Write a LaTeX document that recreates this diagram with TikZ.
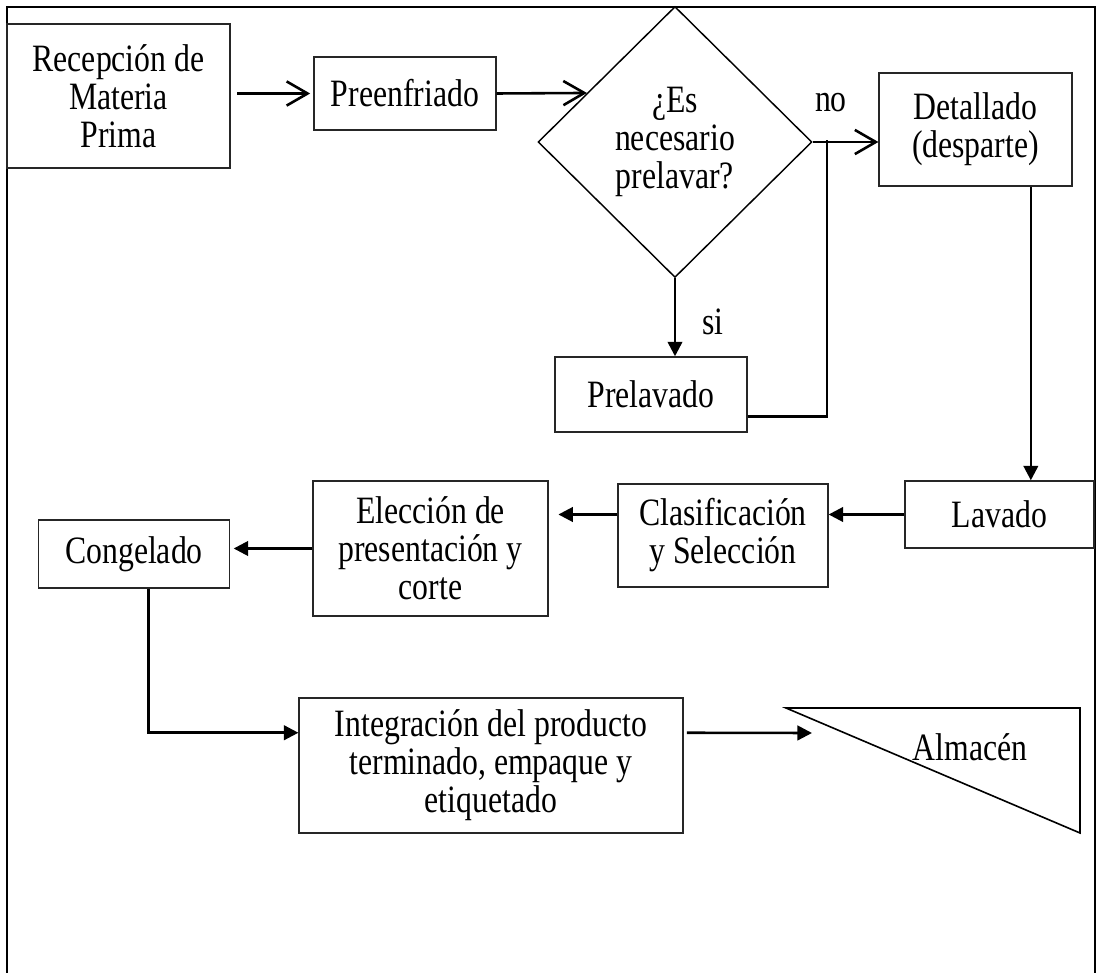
\documentclass[tikz,border=0pt]{standalone}
\usepackage{fontspec}
\setmainfont{Liberation Serif}[FakeStretch=0.82]
\usetikzlibrary{calc}
\usetikzlibrary{arrows.meta,shapes}
\usetikzlibrary{positioning}

\begin{document}
\begin{tikzpicture}[x=0.31pt,y=-0.31pt,
  font=\fontsize{12}{11.8}\selectfont,
  caja/.style={draw=black!85,line width=0.4pt,align=center,inner sep=1pt},
  decision/.style={draw,diamond,line width=0.45pt,align=center,inner sep=0pt},
  flecha/.style={line width=0.8pt,-{Straight Barb[length=6.5pt,width=7.5pt]}},
  flechan/.style={line width=0.8pt,-{Triangle[length=4.5pt,width=4.5pt]}},
  linea/.style={line width=0.8pt},
  marco/.style={line width=0.65pt}]
      \useasboundingbox (0,0) rectangle (1098,973);
      \draw[marco] (7,990) -- (7,7) -- (1095,7) -- (1095,990);
      % fila superior
      \node (rec) [caja, minimum width=69.1pt, minimum height=44.6pt] at (118.5,96) {Recepción de\\Materia\\Prima};
      \node (pre) [caja, minimum width=56.4pt, minimum height=22.6pt] at (405,93.5) {Preenfriado};
      \node (dec) [decision, minimum width=84.9pt, minimum height=84pt] at (675,142) {¿Es\\necesario\\prelavar?};
      \node (det) [caja, minimum width=59.8pt, minimum height=35pt] at (975.5,129.5) {Detallado\\(desparte)};
      \node (pla) [caja, minimum width=59.5pt, minimum height=23.3pt] at (651,394.5) {Prelavado};
      \node (no) at (831,103) {no};
      \node (si) at (713,322) {si};
      % fila media
      \node (lav) [caja, minimum width=58.6pt, minimum height=20.8pt] at (999.5,514.5) {Lavado};
      \node (cla) [caja, minimum width=65.1pt, minimum height=31.9pt] at (723,535.5) {Clasificación\\y Selección};
      \node (ele) [caja, minimum width=72.9pt, minimum height=41.9pt] at (430.5,548.5) {Elección de\\presentación y\\corte};
      \node (con) [caja, minimum width=59.4pt, minimum height=21.1pt] at (134,554) {Congelado};
      % fila inferior
      \node (int) [caja, minimum width=119pt, minimum height=41.9pt] at (491,765.5) {Integración del producto\\terminado, empaque y\\etiquetado};
      \coordinate (almA) at (786,708);
      \coordinate (almB) at (1080,708);
      \coordinate (almC) at (1080,833);
      \draw[line width=0.5pt] (almA) -- (almB) -- (almC) -- cycle;
      \node (alm) at (970,747) {Almacén};

      \coordinate (decin) at ($(dec.west)!0.36!(dec.north)$);
      \coordinate (nojunta) at (827,140);
      \coordinate (detout) at ($(det.south)!0.57!(det.south east)$);
      \coordinate (conout) at ($(con.south)!0.15!(con.south east)$);
      \coordinate (intin) at ($(int.west)!0.48!(int.north west)$);
      \coordinate (intout) at ($(int.east)!0.48!(int.north east)$);
      \coordinate (almin) at (812,733);

      \draw[flecha, shorten <=2pt, shorten >=1pt] (rec.east |- pre.west) -- (pre.west);
      \draw[flecha] (pre.east) -- (decin);
      \draw[flecha] (dec.east) -- (dec.east -| det.west);
      \draw[linea] ($(pla.east)!0.58!(pla.south east)$) -| (nojunta);
      \draw[flechan] (dec.south) -- (dec.south |- pla.north);
      \draw[flechan] (detout) -- (detout |- lav.north);
      \draw[flechan] (lav.west) -- (lav.west -| cla.east);
      \draw[flechan, shorten >=3pt] (cla.west |- lav.west) -- (lav.west -| ele.east);
      \draw[flechan, shorten >=1pt] (ele.west) -- (ele.west -| con.east);
      \draw[flechan] (conout) |- (intin);
      \draw[flechan, shorten <=1pt] (intout) -- (almin);
    \end{tikzpicture}
\end{document}
